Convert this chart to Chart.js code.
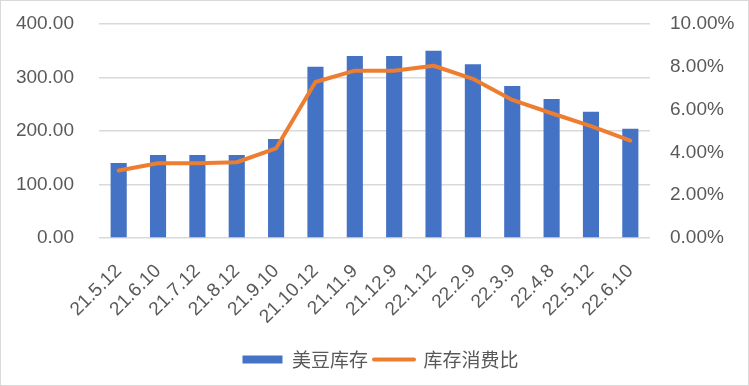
<!DOCTYPE html>
<html>
<head>
<meta charset="utf-8">
<script src="https://cdn.jsdelivr.net/npm/chart.js@4"></script>
<style>
    html, body { margin: 0; padding: 0; background: #fff; }
    #wrap { width: 747px; height: 384px; border: 1px solid #d9d9d9; }
</style>
</head>
<body>
<div id="wrap"><canvas id="chart" width="747" height="384"></canvas></div>
<script>
const categories = ['21.5.12', '21.6.10', '21.7.12', '21.8.12', '21.9.10', '21.10.12', '21.11.9',
    '21.12.9', '22.1.12', '22.2.9', '22.3.9', '22.4.8', '22.5.12', '22.6.10'];
const stocks = [140, 155, 155, 155, 185, 320, 340, 340, 350, 325, 284, 260, 236, 204];
const ratio = [3.15, 3.49, 3.49, 3.54, 4.19, 7.29, 7.82, 7.82, 8.05, 7.44, 6.45, 5.83, 5.23, 4.55];
const leftTicks = [0, 100, 200, 300, 400];
const rightTicks = [0, 2, 4, 6, 8, 10];

const textColor = '#595959';
const gridColor = '#d9d9d9';
const tickFont = { family: '"Liberation Sans", Arial, sans-serif', size: 19 };
const legendFont = { family: '"Noto Sans CJK SC", sans-serif', size: 19 };

const ctx = document.getElementById('chart').getContext('2d');

new Chart(ctx, {
    type: 'bar',
    data: {
        labels: categories,
        datasets: [{
            type: 'line',
            label: '库存消费比',
            data: ratio,
            yAxisID: 'y1',
            borderColor: '#ed7d31',
            backgroundColor: '#ed7d31',
            borderWidth: 4,
            pointRadius: 0,
            tension: 0,
            borderCapStyle: 'round',
            borderJoinStyle: 'round',
            order: 1
        }, {
            label: '美豆库存',
            data: stocks,
            yAxisID: 'y',
            backgroundColor: '#4472c4',
            barPercentage: 0.41,
            categoryPercentage: 1,
            order: 2
        }]
    },
    options: {
        responsive: false,
        animation: false,
        layout: { padding: { top: 23, right: 2, left: 14, bottom: 6 } },
        scales: {
            x: {
                afterFit: axis => { axis.height = 106; },
                grid: { display: false },
                border: { display: false },
                ticks: { color: textColor, font: tickFont, autoSkip: false, maxRotation: 45, minRotation: 45, padding: 14 }
            },
            y: {
                position: 'left',
                min: 0,
                max: 400,
                afterFit: axis => { axis.width = 84; },
                afterBuildTicks: axis => { axis.ticks = leftTicks.map(v => ({ value: v })); },
                // invisible tick marks give the gap between labels and plot
                grid: { color: gridColor, lineWidth: 1.5, drawTicks: true, tickLength: 25, tickColor: 'rgba(0,0,0,0)' },
                border: { display: false },
                ticks: { color: textColor, font: tickFont, padding: 0, callback: v => v.toFixed(2) }
            },
            y1: {
                position: 'right',
                min: 0,
                max: 10,
                afterFit: axis => { axis.width = 96; },
                afterBuildTicks: axis => { axis.ticks = rightTicks.map(v => ({ value: v })); },
                grid: { drawOnChartArea: false, drawTicks: true, tickLength: 20, tickColor: 'rgba(0,0,0,0)' },
                border: { display: false },
                ticks: { color: textColor, font: tickFont, padding: 0, callback: v => v.toFixed(2) + '%' }
            }
        },
        plugins: {
            tooltip: { enabled: false },
            legend: {
                position: 'bottom',
                reverse: true,
                labels: {
                    color: textColor,
                    font: legendFont,
                    usePointStyle: true,
                    pointStyleWidth: 40,
                    boxHeight: 8,
                    padding: 6,
                    generateLabels: chart => chart.data.datasets.map((ds, i) => ({
                        text: ds.label,
                        fillStyle: ds.backgroundColor,
                        strokeStyle: ds.type === 'line' ? ds.borderColor : ds.backgroundColor,
                        lineWidth: ds.type === 'line' ? 4 : 0,
                        lineCap: 'round',
                        pointStyle: ds.type === 'line' ? 'line' : 'rect',
                        fontColor: textColor,
                        datasetIndex: i,
                        hidden: false
                    }))
                }
            }
        }
    }
});
</script>
</body>
</html>
